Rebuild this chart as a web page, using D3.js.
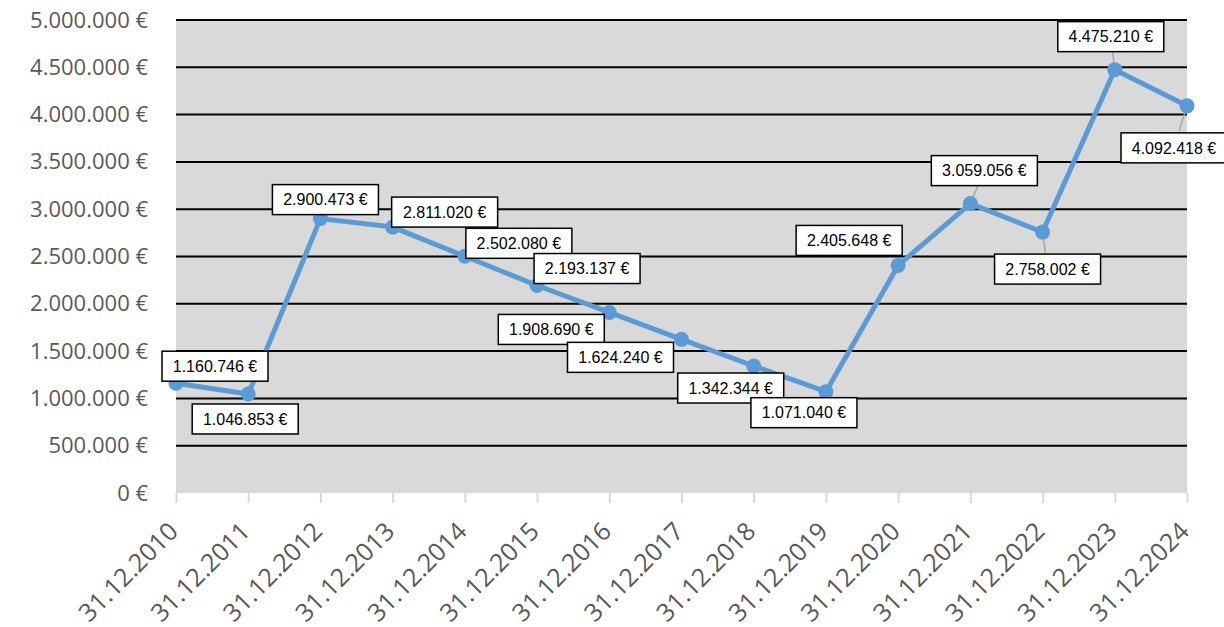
<!DOCTYPE html>
<html><head><meta charset="utf-8">
<script src="https://cdn.jsdelivr.net/npm/d3@7"></script>
<style>body{margin:0;background:#fff}svg{display:block}</style>
</head><body>
<svg id="c" width="1224" height="627"></svg>
<script>
const categories = ["31.12.2010","31.12.2011","31.12.2012","31.12.2013","31.12.2014","31.12.2015","31.12.2016","31.12.2017","31.12.2018","31.12.2019","31.12.2020","31.12.2021","31.12.2022","31.12.2023","31.12.2024"];
const values = [1160746,1046853,2900473,2811020,2502080,2193137,1908690,1624240,1342344,1071040,2405648,3059056,2758002,4475210,4092418];
const yTicks = [0,500000,1000000,1500000,2000000,2500000,3000000,3500000,4000000,4500000,5000000];
// label box offsets (dx, dy from point) and whether a leader line is drawn
const labelOffsets = [[39,-17],[-3,25],[5,-19],[52,-15],[54,-13],[50,-17],[-58,17],[-61,18],[-23,22],[-22,21],[-49,-25],[14,-33],[5,37],[-4,-33],[-13,42]];
const leaders = [0,0,0,0,0,0,0,0,0,0,0,1,1,1,1];

const fmt = v => d3.format(",")(v).replace(/,/g, ".") + " €";
const svg = d3.select("#c");
const L = 176, R = 1187, T = 20, B = 493;
const x = d3.scalePoint().domain(categories).range([L, R]);
const y = d3.scaleLinear().domain([0, 5000000]).range([B, T]);

svg.append("rect").attr("x", L).attr("y", T).attr("width", R - L).attr("height", B - T).attr("fill", "#d9d9d9");

// gridlines
svg.append("g").selectAll("line").data(yTicks.filter(d => d > 0)).join("line")
  .attr("x1", L).attr("x2", R).attr("y1", d => y(d)).attr("y2", d => y(d))
  .attr("stroke", "#000").attr("stroke-width", 2);

// y axis
const ya = svg.append("g").attr("transform", `translate(${L},0)`)
  .call(d3.axisLeft(y).tickValues(yTicks).tickFormat(fmt).tickSize(0).tickPadding(28));
ya.select(".domain").remove();
ya.selectAll("text").attr("font-family", "Open Sans, sans-serif").attr("font-size", 22).attr("fill", "#595959");

// x axis
const xa = svg.append("g").attr("transform", `translate(0,${B})`)
  .call(d3.axisBottom(x).tickSize(10).tickPadding(4));
xa.select(".domain").remove();
xa.selectAll(".tick line").attr("stroke", "#d9d9d9").attr("stroke-width", 2);
xa.selectAll("text").attr("font-family", "Open Sans, sans-serif").attr("font-size", 25).attr("fill", "#595959")
  .attr("text-anchor", "end").attr("x", 0).attr("y", 0).attr("dy", null)
  .attr("transform", "translate(3,40) rotate(-45)");

// line
svg.append("path").datum(values)
  .attr("d", d3.line().x((d, i) => x(categories[i])).y(d => y(d)))
  .attr("fill", "none").attr("stroke", "#5b9bd5").attr("stroke-width", 5).attr("stroke-linejoin", "round");

// leader lines
svg.append("g").selectAll("line").data(values.map((v, i) => ({v, i})).filter(d => leaders[d.i])).join("line")
  .attr("x1", d => x(categories[d.i])).attr("y1", d => y(d.v))
  .attr("x2", d => x(categories[d.i]) + labelOffsets[d.i][0] * 0.6).attr("y2", d => y(d.v) + labelOffsets[d.i][1] * 0.6)
  .attr("stroke", "#a6a6a6").attr("stroke-width", 1.5);

svg.append("g").selectAll("circle").data(values).join("circle")
  .attr("cx", (d, i) => x(categories[i])).attr("cy", d => y(d)).attr("r", 7.5)
  .attr("fill", "#5b9bd5");

// labels
const lg = svg.append("g").selectAll("g").data(values).join("g")
  .attr("transform", (d, i) => `translate(${x(categories[i]) + labelOffsets[i][0]},${y(d) + labelOffsets[i][1]})`);
lg.append("rect").attr("x", -53).attr("y", -15).attr("width", 106).attr("height", 30)
  .attr("fill", "#fff").attr("stroke", "#000").attr("stroke-width", 1.5);
lg.append("text").attr("text-anchor", "middle").attr("dy", "0.36em")
  .attr("font-family", "Liberation Sans, Arial, sans-serif").attr("font-size", 16).attr("fill", "#000")
  .text(d => fmt(d));
</script>
</body></html>
